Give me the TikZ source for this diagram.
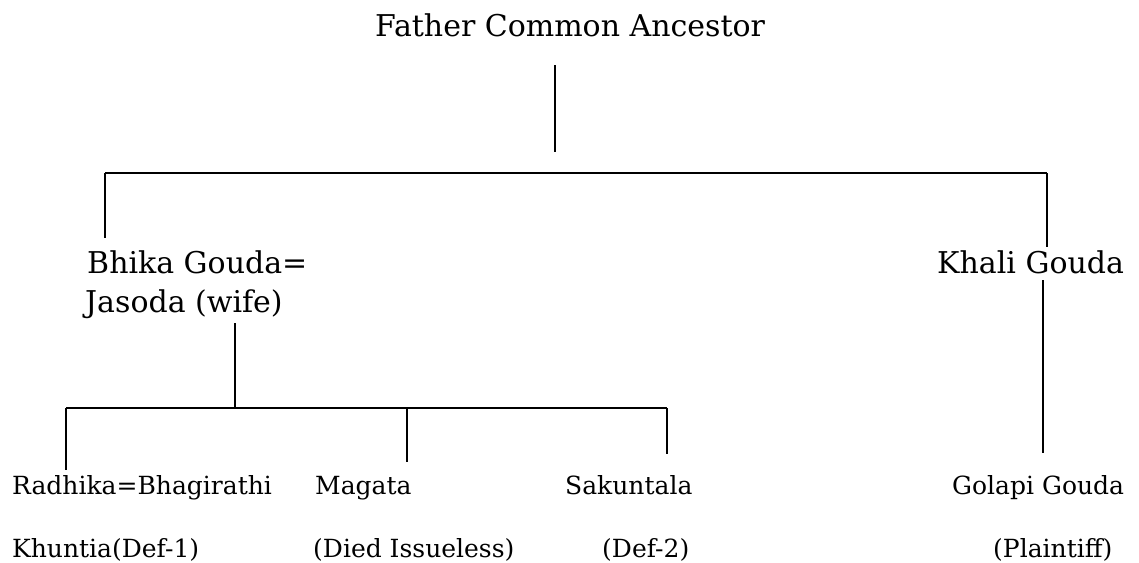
\documentclass[tikz,border=0pt]{standalone}
\usepackage{fontspec}
\setmainfont{DejaVu Serif}
\usetikzlibrary{positioning, calc}

\tikzset{
  bigname/.style={anchor=base west, inner sep=0pt, font=\fontsize{30}{36}\selectfont},
  smallname/.style={anchor=base west, inner sep=0pt, font=\fontsize{25}{30}\selectfont},
  branch/.style={line width=1.4pt},
  bar/.style={line width=1.9pt},
}

\begin{document}
\begin{tikzpicture}[x=1pt, y=-1pt]
                \useasboundingbox (0,0) rectangle (1139,562);

                % first generation
                \node[bigname] (father) at (375,36) {Father Common Ancestor};
                \node[bigname] (bhika)  at (87,273) {Bhika Gouda=};
                \node[bigname] (jasoda) at (85,312) {Jasoda (wife)};
                \node[bigname] (khali)  at (937,273) {Khali Gouda};

                \coordinate (F1) at (555,65);
                \coordinate (F2) at (555,152);
                \draw[branch] (F1) -- (F2);

                \coordinate (L) at (105,173);
                \coordinate (R) at (1047,173);
                \draw[bar] (L) -- (R);
                \draw[branch] (L) -- ($(L)+(0,65)$);
                \draw[branch] (R) -- ($(R)+(0,74)$);

                % children of Bhika Gouda
                \node[smallname] (radhika) at (12,494)  {Radhika=Bhagirathi};
                \node[smallname] (magata)  at (315,494) {Magata};
                \node[smallname] (sakun)   at (565,494) {Sakuntala};
                \node[smallname] (khuntia) at (12,557)  {Khuntia(Def-1)};
                \node[smallname] (died)    at (313,557) {(Died Issueless)};
                \node[smallname] (def)     at (602,557) {(Def-2)};

                \coordinate (J1) at (235,323);
                \coordinate (J2) at (235,408);
                \draw[branch] (J1) -- (J2);

                \coordinate (B1) at (66,408);
                \coordinate (B2) at (407,408);
                \coordinate (B3) at (667,408);
                \draw[bar] (B1) -- (B3);
                \draw[branch] (B1) -- ($(B1)+(0,62)$);
                \draw[branch] (B2) -- ($(B2)+(0,54)$);
                \draw[branch] (B3) -- ($(B3)+(0,46)$);

                % child of Khali Gouda
                \node[smallname] (golapi) at (952,494)  {Golapi Gouda};
                \node[smallname] (plain)  at (993,557)  {(Plaintiff)};

                \coordinate (K1) at (1043,280);
                \coordinate (K2) at (1043,453);
                \draw[branch] (K1) -- (K2);
            \end{tikzpicture}
\end{document}
